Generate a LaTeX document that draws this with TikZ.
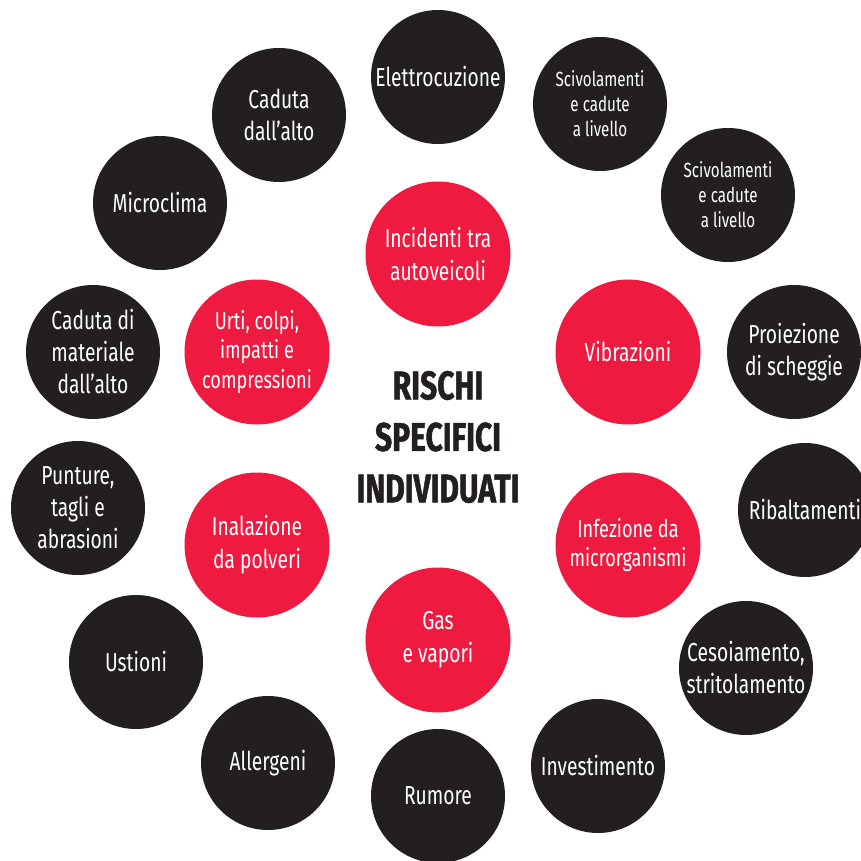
\documentclass[tikz,border=0pt]{standalone}
\usepackage{fontspec}
\setmainfont[FakeStretch=0.74]{Fira Sans}
\newfontfamily\titlefont[FakeStretch=0.75, FakeBold=1.2]{Fira Sans Bold}
\usepackage{xcolor}
\definecolor{riskblack}{HTML}{231F20}
\definecolor{riskred}{HTML}{EE1A3F}
\usetikzlibrary{positioning}

\begin{document}
\begin{tikzpicture}[x=1pt, y=-1pt,
	blackrisk/.style={circle, fill=riskblack, text=white, minimum size=134, inner sep=0, align=center, font=\fontsize{26}{32}\selectfont},
	smallrisk/.style={blackrisk, font=\fontsize{20.5}{25}\selectfont},
	redrisk/.style={circle, fill=riskred, text=white, minimum size=145, inner sep=0, align=center, font=\fontsize{26}{33}\selectfont},
	tightrisk/.style={redrisk, font=\fontsize{24.5}{29.5}\selectfont},
	title/.style={text=riskblack, align=center, font=\titlefont\fontsize{40}{51.5}\selectfont}
]
\useasboundingbox (0,0) rectangle (861,861);

% outer ring
\node[blackrisk] (elettro) at (438,77) {Elettrocuzione};
\node[smallrisk] (scivola1) at (600,104) {Scivolamenti\\e cadute\\a livello};
\node[smallrisk] (scivola2) at (728,195) {Scivolamenti\\e cadute\\a livello};
\node[blackrisk] (proiez) at (794,352) {Proiezione\\di scheggie};
\node[blackrisk] (ribalt) at (805,510) {Ribaltamenti};
\node[blackrisk] (cesoia) at (746,668) {Cesoiamento,\\stritolamento};
\node[blackrisk] (investi) at (598,766) {Investimento};
\node[blackrisk] (rumore) at (438,796) {Rumore};
\node[blackrisk] (allerg) at (268,763) {Allergeni};
\node[blackrisk] (ustioni) at (136,662) {Ustioni};
\node[blackrisk] (punture) at (78,508) {Punture,\\tagli e\\abrasioni};
\node[blackrisk] (cadmat) at (93,352) {Caduta di\\materiale\\dall’alto};
\node[blackrisk] (microcl) at (160,203) {Microclima};
\node[blackrisk] (cadalto) at (279,115) {Caduta\\dall’alto};

% inner ring
\node[redrisk] (incid) at (438,254) {Incidenti tra\\autoveicoli};
\node[redrisk] (vibra) at (628,352) {Vibrazioni};
\node[tightrisk] (infez) at (628,545) {Infezione da\\microrganismi};
\node[redrisk] (gas) at (438,640) {Gas\\e vapori};
\node[redrisk] (inalaz) at (257,545) {Inalazione\\da polveri};
\node[tightrisk] (urti) at (257,352) {Urti, colpi,\\impatti e\\compressioni};

\node[title] (rischi) at (438,437) {RISCHI\\SPECIFICI\\INDIVIDUATI};
\end{tikzpicture}
\end{document}
